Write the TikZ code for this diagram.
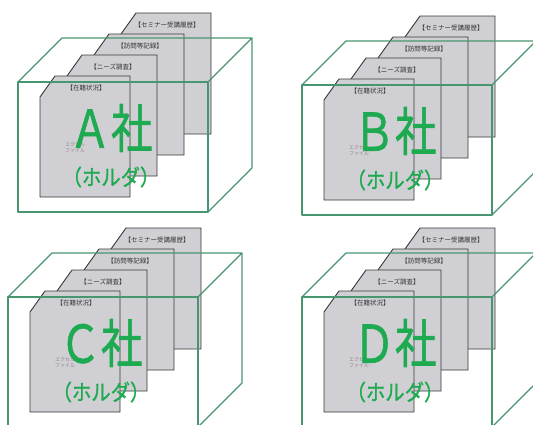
\documentclass[tikz,border=0pt]{standalone}
\usepackage{fontspec}
\newfontfamily\jpfont{Noto Sans CJK JP}
\newfontfamily\jpheavy[FakeBold=1.3]{Noto Sans CJK JP}
\definecolor{boxgreen}{RGB}{72,150,112}
\definecolor{titlegreen}{RGB}{30,170,80}
\definecolor{cardfill}{RGB}{208,208,212}
\definecolor{cardline}{RGB}{55,55,55}
\definecolor{notegray}{RGB}{150,130,140}
\tikzset{
  card/.style={fill=cardfill, draw=cardline, line width=0.9pt, line join=miter},
  holder/.style={draw=boxgreen, line width=1.1pt, line join=round},
  cardlabel/.style={font=\jpfont\fontsize{6.5}{7}\selectfont, text=black!80, inner sep=0pt},
  note/.style={font=\jpfont\fontsize{5}{6}\selectfont, text=notegray, inner sep=0pt, align=center},
  firmname/.style={font=\jpheavy\fontsize{52}{52}\selectfont, text=titlegreen, inner sep=0pt},
  holdername/.style={font=\jpheavy\fontsize{22}{22}\selectfont, text=titlegreen, inner sep=0pt},
}
% One company folder: four record cards standing in an open green holder.
% #1,#2 = front top-left corner of the holder, #3 = id, #4 = company letter
\newcommand\firmpanel[4]{%
  \begin{scope}[shift={(#1,#2)}]
    \foreach \k/\lab in {3/【セミナー受講履歴】,2/【訪問等記録】,1/【ニーズ調査】,0/【在籍状況】}{
      \begin{scope}[shift={(27*\k,-21*\k)}]
        \draw[card] (22,15) -- (37,-6) -- (112,-6) -- (112,115) -- (22,115) -- cycle;
        \node[cardlabel] (lab-#3-\k) at (68,6) {\lab};
      \end{scope}
    }
    \node[note] (note-#3) at (57,66) {エクセル\\ファイル};
    % holder box drawn as an open wire frame
    \draw[holder] (0,0) rectangle (190,130);
    \draw[holder] (0,0) -- (44,-44) -- (234,-44) -- (190,0);
    \draw[holder] (234,-44) -- (234,86) -- (190,130);
    \node[firmname] (name-#3) at (93,46) {\scalebox{0.8}[1]{#4社}};
    \node[holdername] (hold-#3) at (93,95) {\scalebox{0.88}[1]{（ホルダ）}};
  \end{scope}}

\begin{document}
\begin{tikzpicture}[x=1pt,y=-1pt]
  \useasboundingbox (0,0) rectangle (533,424);
  \clip (0,0) rectangle (533,424);
  \firmpanel{18}{82}{a}{Ａ}
  \firmpanel{302}{85}{b}{Ｂ}
  \firmpanel{8}{297}{c}{Ｃ}
  \firmpanel{302}{297}{d}{Ｄ}
\end{tikzpicture}
\end{document}
